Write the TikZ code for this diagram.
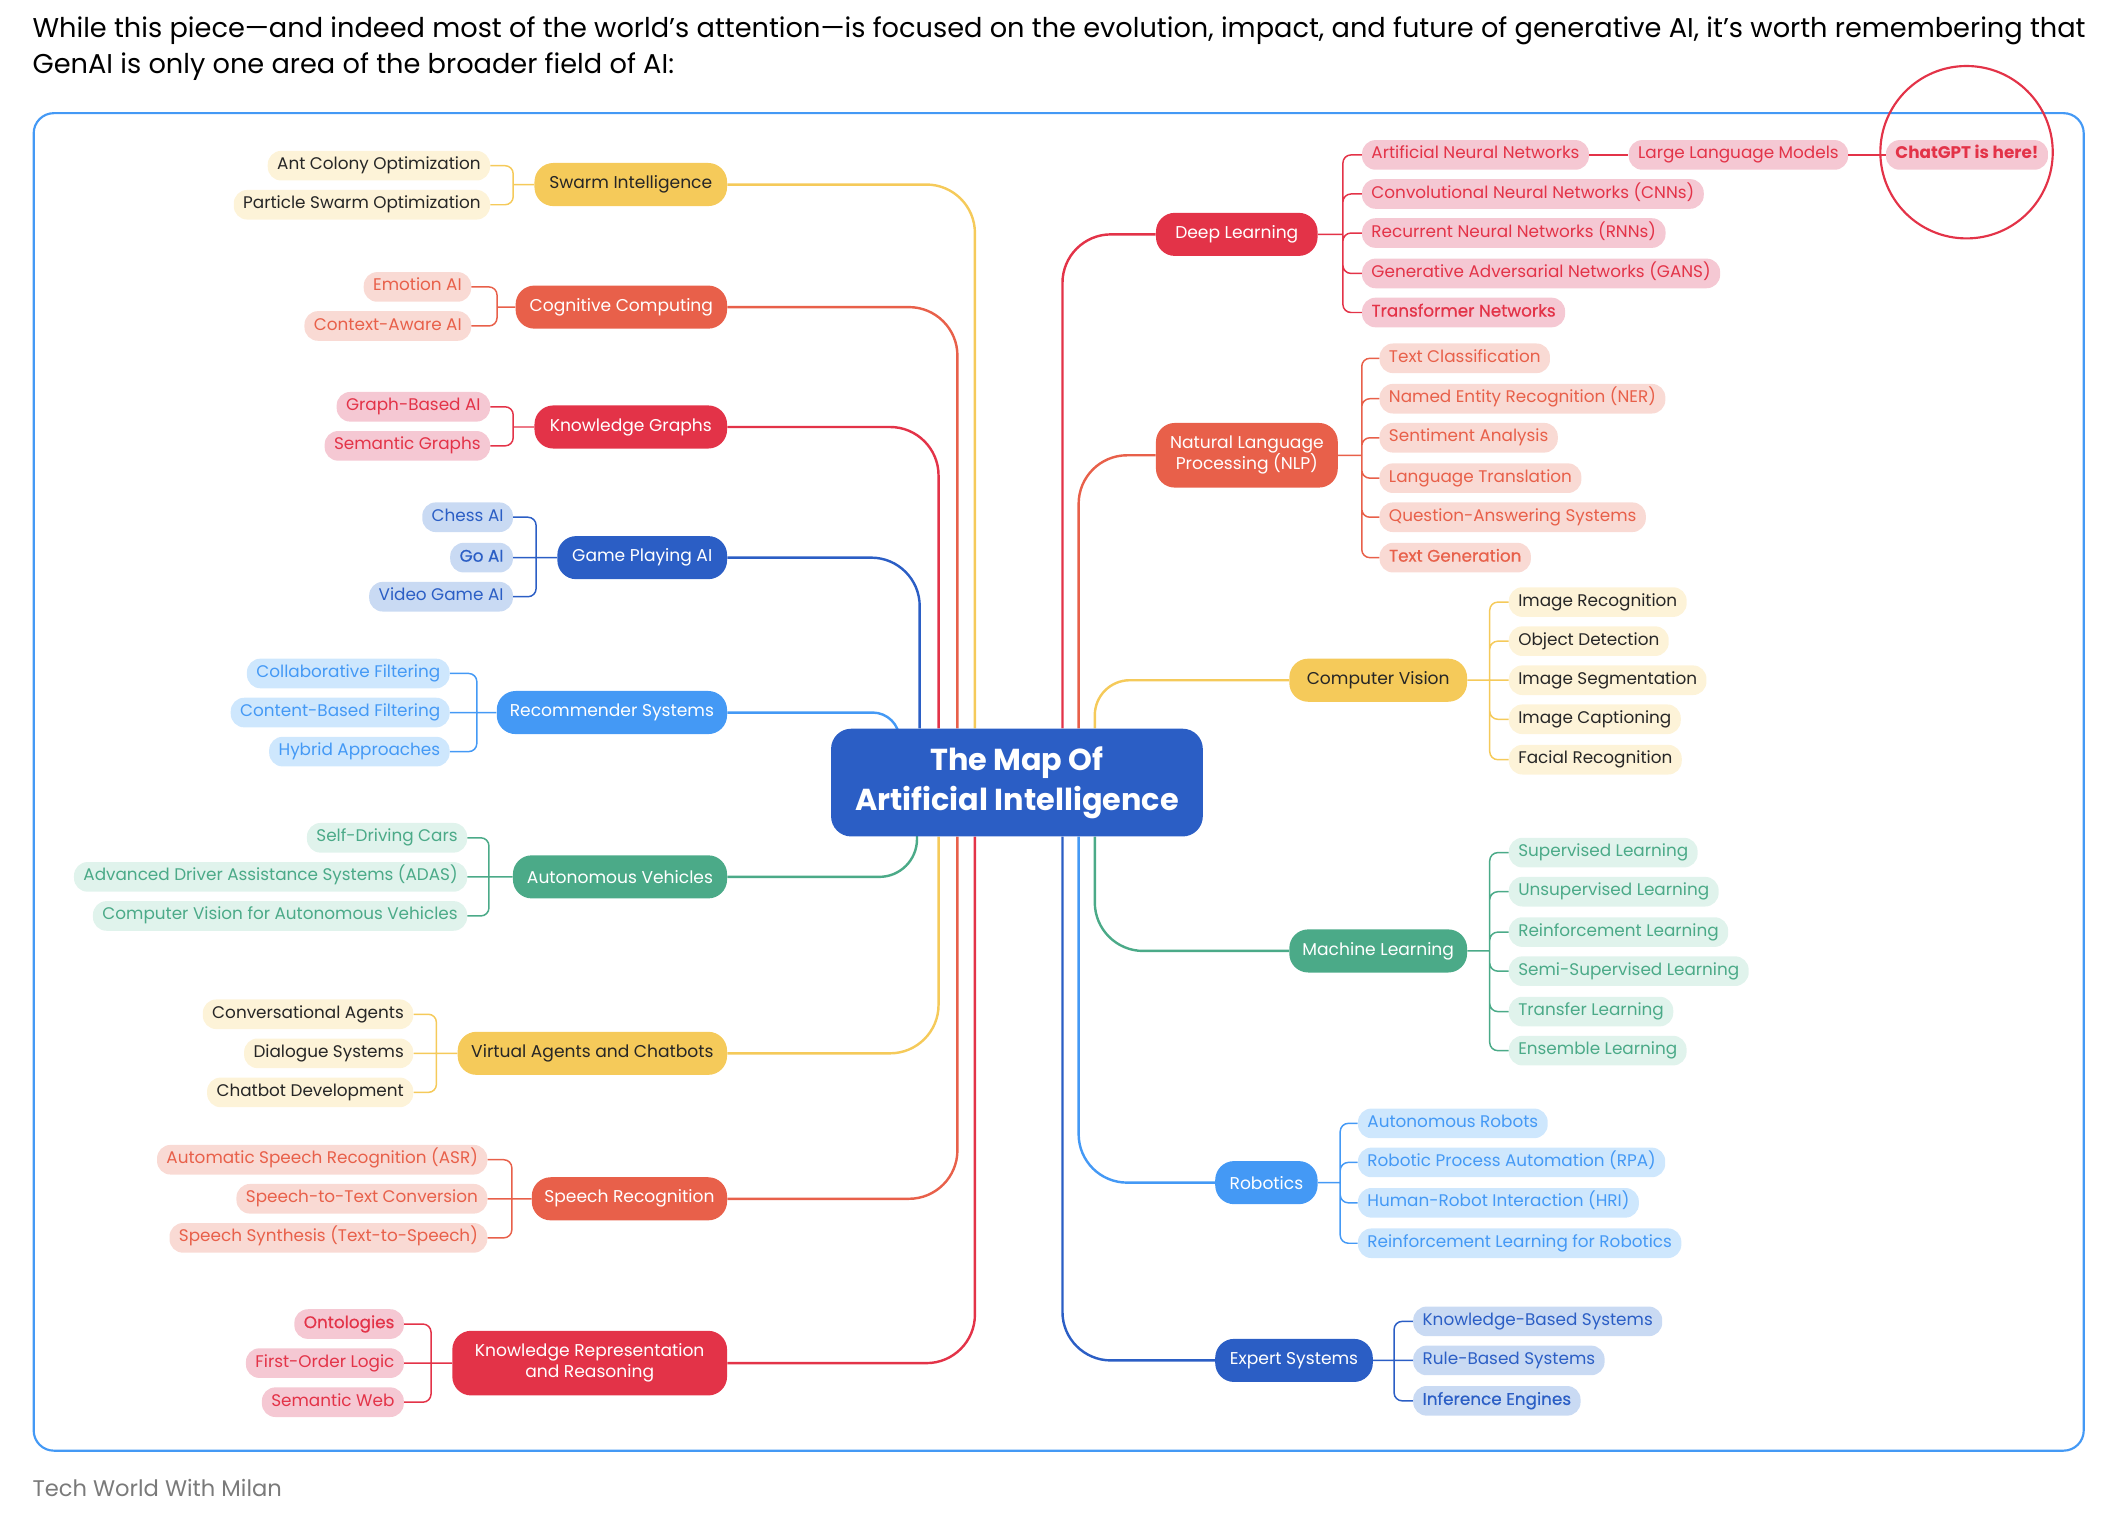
\documentclass[tikz,border=0pt]{standalone}
\usepackage{fontspec}
\setmainfont{Poppins}
\newfontfamily\medfont{Poppins}[FakeBold=0.5]
\usetikzlibrary{backgrounds}

\definecolor{cYel}{HTML}{F5CA5A}
\definecolor{cYelL}{HTML}{FDF3D8}
\definecolor{cOra}{HTML}{E8604A}
\definecolor{cOraL}{HTML}{F9DAD4}
\definecolor{cRed}{HTML}{E33348}
\definecolor{cRedL}{HTML}{F5C8D3}
\definecolor{cDkb}{HTML}{2B5EC5}
\definecolor{cDkbL}{HTML}{C9DAF3}
\definecolor{cLtb}{HTML}{4499F5}
\definecolor{cLtbL}{HTML}{CEE7FD}
\definecolor{cGrn}{HTML}{4BAA88}
\definecolor{cGrnL}{HTML}{E0F3EC}
\definecolor{cInk}{HTML}{262626}
\definecolor{cGry}{HTML}{7A7A7A}

\newcommand\leaffont{\fontsize{12.5}{14}\selectfont}
\newcommand\topicfont{\fontsize{12.7}{15.5}\selectfont}
\newcommand\hubfont{\fontsize{22.5}{30}\selectfont\bfseries}
\newcommand\introfont{\fontsize{20.2}{27}\selectfont}

\begin{document}
\begin{tikzpicture}[%
    x=1pt, y=-1pt,                       % pixel grid, y grows downwards
    every node/.style={inner sep=0pt},   % boxes get their own padding
    ]
% -------------------------------------------------
% Box and line styles
\tikzset{
  hub/.style={rectangle, rounded corners=15pt, fill=cDkb, text=white,
    align=center, font=\hubfont, minimum width=276pt, minimum height=80pt},
  topic/.style={rectangle, rounded corners=14pt, align=center,
    inner xsep=8pt, font=\topicfont, minimum height=32pt},
  topicL/.style={topic, anchor=east},
  topicR/.style={topic, anchor=west},
  leaf/.style={rectangle, rounded corners=10pt, inner xsep=7pt,
    font=\leaffont, text height=9pt, text depth=3pt, minimum height=22pt},
  leafL/.style={leaf, anchor=east},
  leafR/.style={leaf, anchor=west},
  heavy/.style={font=\leaffont\medfont},
  % colour sets: solid topic, pale leaf
  sYel/.style={fill=cYel, text=cInk},
  sOra/.style={fill=cOra, text=white},
  sRed/.style={fill=cRed, text=white},
  sDkb/.style={fill=cDkb, text=white},
  sLtb/.style={fill=cLtb, text=white},
  sGrn/.style={fill=cGrn, text=white},
  lYel/.style={fill=cYelL, text=cInk},
  lOra/.style={fill=cOraL, text=cOra},
  lRed/.style={fill=cRedL, text=cRed},
  lDkb/.style={fill=cDkbL, text=cDkb},
  lLtb/.style={fill=cLtbL, text=cLtb},
  lGrn/.style={fill=cGrnL, text=cGrn},
  % connector line styles
  wire/.style={draw, line width=1.8pt, rounded corners=36pt},
  twig/.style={draw, line width=1.1pt, rounded corners=6pt},
}
\useasboundingbox (0,0) rectangle (1568,1128);
% -------------------------------------------------
% Heading, frame and credit
\node[anchor=west, align=left, font=\introfont, text=black] (intro) at (24,36)
  {While this piece—and indeed most of the world’s attention—is focused on the evolution, impact, and future of generative AI, it’s worth remembering that\\
   GenAI is only one area of the broader field of AI:};
\draw[cLtb, line width=1.6pt, rounded corners=15pt] (25,84) rectangle (1547,1077);
\node[anchor=west, font=\fontsize{16.8}{19}\selectfont, text=cGry] (credit) at (24,1105)
  {Tech World With Milan};

% -------------------------------------------------
% Centre
\node[hub] (hub) at (755,581) {The Map Of\\Artificial Intelligence};

% Left topics
\node[topicL, sYel, minimum width=143pt] (swarm)  at (540,137)  {Swarm Intelligence};
\node[topicL, sOra, minimum width=157pt] (cog)    at (540,228)  {Cognitive Computing};
\node[topicL, sRed, minimum width=143pt] (kg)     at (540,317)  {Knowledge Graphs};
\node[topicL, sDkb, minimum width=126pt] (game)   at (540,414)  {Game Playing AI};
\node[topicL, sLtb, minimum width=171pt] (rec)    at (540,529)  {Recommender Systems};
\node[topicL, sGrn, minimum width=159pt] (auto)   at (540,651)  {Autonomous Vehicles};
\node[topicL, sYel, minimum width=200pt] (virt)   at (540,782)  {Virtual Agents and Chatbots};
\node[topicL, sOra, minimum width=145pt] (speech) at (540,890)  {Speech Recognition};
\node[topicL, sRed, minimum width=204pt, minimum height=48pt] (krr) at (540,1012)
  {Knowledge Representation\\and Reasoning};

% Right topics
\node[topicR, sRed, minimum width=120pt] (deep)   at (858,174)  {Deep Learning};
\node[topicR, sOra, minimum width=135pt, minimum height=48pt] (nlp) at (858,338)
  {Natural Language\\Processing (NLP)};
\node[topicR, sYel, minimum width=132pt] (cv)     at (957,505)  {Computer Vision};
\node[topicR, sGrn, minimum width=132pt] (ml)     at (957,706)  {Machine Learning};
\node[topicR, sLtb, minimum width=76pt]  (robo)   at (902,878)  {Robotics};
\node[topicR, sDkb, minimum width=117pt] (expert) at (902,1010) {Expert Systems};

% -------------------------------------------------
% Leaves, left side
\node[leafL, lYel] (aco)  at (364,123)  {Ant Colony Optimization};
\node[leafL, lYel] (pso)  at (364,152)  {Particle Swarm Optimization};
\node[leafL, lOra] (emo)  at (350,213)  {Emotion AI};
\node[leafL, lOra] (ctx)  at (350,242)  {Context-Aware AI};
\node[leafL, lRed] (gba)  at (364,302)  {Graph-Based AI};
\node[leafL, lRed] (sgr)  at (364,331)  {Semantic Graphs};
\node[leafL, lDkb] (chess) at (381,384) {Chess AI};
\node[leafL, lDkb, heavy] (goai) at (381,414) {Go AI};
\node[leafL, lDkb] (vgai) at (381,443)  {Video Game AI};
\node[leafL, lLtb] (colf) at (334,500)  {Collaborative Filtering};
\node[leafL, lLtb] (cbf)  at (334,529)  {Content-Based Filtering};
\node[leafL, lLtb] (hyb)  at (334,558)  {Hybrid Approaches};
\node[leafL, lGrn] (sdc)  at (347,622)  {Self-Driving Cars};
\node[leafL, lGrn] (adas) at (347,651)  {Advanced Driver Assistance Systems (ADAS)};
\node[leafL, lGrn] (cvav) at (347,680)  {Computer Vision for Autonomous Vehicles};
\node[leafL, lYel] (conv) at (307,753)  {Conversational Agents};
\node[leafL, lYel] (dlg)  at (307,782)  {Dialogue Systems};
\node[leafL, lYel] (cbd)  at (307,811)  {Chatbot Development};
\node[leafL, lOra] (asr)  at (362,861)  {Automatic Speech Recognition (ASR)};
\node[leafL, lOra] (stt)  at (362,890)  {Speech-to-Text Conversion};
\node[leafL, lOra] (tts)  at (362,919)  {Speech Synthesis (Text-to-Speech)};
\node[leafL, lRed, heavy] (onto) at (300,983) {Ontologies};
\node[leafL, lRed] (fol)  at (300,1012) {First-Order Logic};
\node[leafL, lRed] (sweb) at (300,1041) {Semantic Web};

% Leaves, right side
\node[leafR, lRed] (ann)  at (1011,115) {Artificial Neural Networks};
\node[leafR, lRed] (cnn)  at (1011,144) {Convolutional Neural Networks (CNNs)};
\node[leafR, lRed] (rnn)  at (1011,173) {Recurrent Neural Networks (RNNs)};
\node[leafR, lRed] (gan)  at (1011,203) {Generative Adversarial Networks (GANS)};
\node[leafR, lRed, heavy] (trn) at (1011,232) {Transformer Networks};
\node[leafR, lRed] (llm)  at (1209,115) {Large Language Models};
\node[leafR, lRed, font=\leaffont\bfseries] (chat) at (1400,115) {ChatGPT is here!};
\node[leafR, lOra] (tcl)  at (1024,266) {Text Classification};
\node[leafR, lOra] (ner)  at (1024,296) {Named Entity Recognition (NER)};
\node[leafR, lOra] (sen)  at (1024,325) {Sentiment Analysis};
\node[leafR, lOra] (ltr)  at (1024,355) {Language Translation};
\node[leafR, lOra] (qas)  at (1024,384) {Question-Answering Systems};
\node[leafR, lOra, heavy] (tgen) at (1024,414) {Text Generation};
\node[leafR, lYel] (irec) at (1120,447) {Image Recognition};
\node[leafR, lYel] (odet) at (1120,476) {Object Detection};
\node[leafR, lYel] (iseg) at (1120,505) {Image Segmentation};
\node[leafR, lYel] (icap) at (1120,534) {Image Captioning};
\node[leafR, lYel] (frec) at (1120,564) {Facial Recognition};
\node[leafR, lGrn] (sup)  at (1120,633) {Supervised Learning};
\node[leafR, lGrn] (uns)  at (1120,662) {Unsupervised Learning};
\node[leafR, lGrn] (rl)   at (1120,692) {Reinforcement Learning};
\node[leafR, lGrn] (ssl)  at (1120,721) {Semi-Supervised Learning};
\node[leafR, lGrn] (tl)   at (1120,751) {Transfer Learning};
\node[leafR, lGrn] (ens)  at (1120,780) {Ensemble Learning};
\node[leafR, lLtb] (arob) at (1008,834) {Autonomous Robots};
\node[leafR, lLtb] (rpa)  at (1008,863) {Robotic Process Automation (RPA)};
\node[leafR, lLtb] (hri)  at (1008,893) {Human-Robot Interaction (HRI)};
\node[leafR, lLtb] (rlr)  at (1008,923) {Reinforcement Learning for Robotics};
\node[leafR, lDkb] (kbs)  at (1049,981) {Knowledge-Based Systems};
\node[leafR, lDkb] (rbs)  at (1049,1010) {Rule-Based Systems};
\node[leafR, lDkb, heavy] (inf) at (1049,1040) {Inference Engines};

% Marker round the newest leaf
\node[circle, draw=cRed, line width=1.6pt, minimum size=128pt] (ring) at (1460,113) {};

% -------------------------------------------------
% Spines of each group
\coordinate (swarmS) at (381,137);
\coordinate (cogS)   at (369,228);
\coordinate (kgS)    at (381,317);
\coordinate (gameS)  at (398,414);
\coordinate (recS)   at (354,529);
\coordinate (autoS)  at (363,651);
\coordinate (virtS)  at (324,782);
\coordinate (speechS) at (380,890);
\coordinate (krrS)   at (320,1012);
\coordinate (deepS)  at (997,174);
\coordinate (nlpS)   at (1011,338);
\coordinate (cvS)    at (1106,505);
\coordinate (mlS)    at (1106,706);
\coordinate (roboS)  at (995,878);
\coordinate (expertS) at (1035,1010);

\draw[twig, cYel] (swarm.west) -- (swarmS) (swarmS) |- (aco.east) (swarmS) |- (pso.east);
\draw[twig, cOra] (cog.west) -- (cogS) (cogS) |- (emo.east) (cogS) |- (ctx.east);
\draw[twig, cRed] (kg.west) -- (kgS) (kgS) |- (gba.east) (kgS) |- (sgr.east);
\draw[twig, cDkb] (game.west) -- (gameS) (gameS) |- (chess.east) (gameS) -- (goai.east)
  (gameS) |- (vgai.east);
\draw[twig, cLtb] (rec.west) -- (recS) (recS) |- (colf.east) (recS) -- (cbf.east)
  (recS) |- (hyb.east);
\draw[twig, cGrn] (auto.west) -- (autoS) (autoS) |- (sdc.east) (autoS) -- (adas.east)
  (autoS) |- (cvav.east);
\draw[twig, cYel] (virt.west) -- (virtS) (virtS) |- (conv.east) (virtS) -- (dlg.east)
  (virtS) |- (cbd.east);
\draw[twig, cOra] (speech.west) -- (speechS) (speechS) |- (asr.east) (speechS) -- (stt.east)
  (speechS) |- (tts.east);
\draw[twig, cRed] (krr.west) -- (krrS) (krrS) |- (onto.east) (krrS) -- (fol.east)
  (krrS) |- (sweb.east);

\draw[twig, cRed] (deep.east) -- (deepS) (deepS) |- (ann.west) (deepS) |- (cnn.west)
  (deepS) |- (rnn.west) (deepS) |- (gan.west) (deepS) |- (trn.west);
\draw[twig, cRed] (ann.east) -- (llm.west) (llm.east) -- (chat.west);
\draw[twig, cOra] (nlp.east) -- (nlpS) (nlpS) |- (tcl.west) (nlpS) |- (ner.west)
  (nlpS) |- (sen.west) (nlpS) |- (ltr.west) (nlpS) |- (qas.west) (nlpS) |- (tgen.west);
\draw[twig, cYel] (cv.east) -- (cvS) (cvS) |- (irec.west) (cvS) |- (odet.west)
  (cvS) -- (iseg.west) (cvS) |- (icap.west) (cvS) |- (frec.west);
\draw[twig, cGrn] (ml.east) -- (mlS) (mlS) |- (sup.west) (mlS) |- (uns.west)
  (mlS) |- (rl.west) (mlS) |- (ssl.west) (mlS) |- (tl.west) (mlS) |- (ens.west);
\draw[twig, cLtb] (robo.east) -- (roboS) (roboS) |- (arob.west) (roboS) |- (rpa.west)
  (roboS) |- (hri.west) (roboS) |- (rlr.west);
\draw[twig, cDkb] (expert.east) -- (expertS) (expertS) |- (kbs.west) (expertS) -- (rbs.west)
  (expertS) |- (inf.west);

% -------------------------------------------------
% Branches from the centre, behind the boxes
\begin{scope}[on background layer]
\draw[wire, cYel] (swarm.east)  -| ([xshift=107pt]hub.north west);
\draw[wire, cOra] (cog.east)    -| ([xshift=94pt]hub.north west);
\draw[wire, cRed] (kg.east)     -| ([xshift=80pt]hub.north west);
\draw[wire, cDkb] (game.east)   -| ([xshift=66pt]hub.north west);
\draw[wire, cLtb, rounded corners=20pt] (rec.east) -| ([xshift=51pt, yshift=-25pt]hub.north west);
\draw[wire, cGrn, rounded corners=28pt] (auto.east) -| ([xshift=64pt, yshift=25pt]hub.south west);
\draw[wire, cYel] (virt.east)   -| ([xshift=80pt]hub.south west);
\draw[wire, cOra] (speech.east) -| ([xshift=94pt]hub.south west);
\draw[wire, cRed] (krr.east)    -| ([xshift=107pt]hub.south west);
\draw[wire, cRed] (deep.west)   -| ([xshift=172pt]hub.north west);
\draw[wire, cOra] (nlp.west)    -| ([xshift=184pt]hub.north west);
\draw[wire, cYel, rounded corners=26pt] (cv.west) -| ([xshift=196pt]hub.north west);
\draw[wire, cGrn] (ml.west)     -| ([xshift=196pt]hub.south west);
\draw[wire, cLtb] (robo.west)   -| ([xshift=184pt]hub.south west);
\draw[wire, cDkb] (expert.west) -| ([xshift=172pt]hub.south west);
\end{scope}
% -------------------------------------------------
\end{tikzpicture}
\end{document}
